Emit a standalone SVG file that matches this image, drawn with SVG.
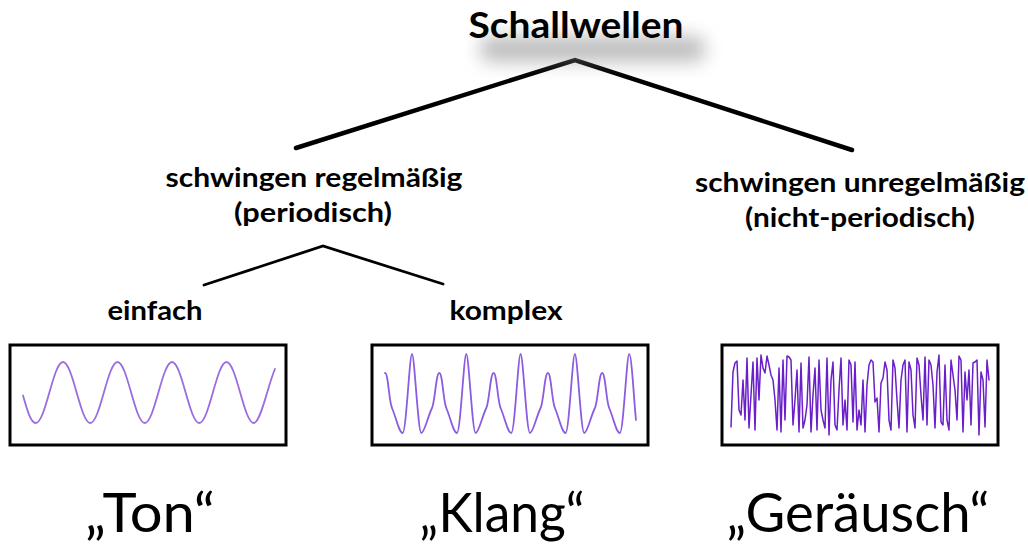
<svg xmlns="http://www.w3.org/2000/svg" width="1028" height="544" viewBox="0 0 1028 544">
<style>
.t{font-family:Lato,"Open Sans","Liberation Sans",sans-serif;font-weight:bold;fill:#000;text-anchor:middle}
.b{font-family:Lato,"Open Sans","Liberation Sans",sans-serif;font-weight:normal;fill:#000;text-anchor:middle;font-size:54px}
.ln{stroke:#000;fill:none;stroke-linecap:round;stroke-linejoin:miter}
.box{fill:#fff;stroke:#000;stroke-width:3}
.w{fill:none;stroke-linejoin:round;stroke-linecap:round}
</style>
<defs>
<filter id="sh" x="-40%" y="-150%" width="180%" height="400%"><feGaussianBlur stdDeviation="9"/></filter>
</defs>
<rect width="1028" height="544" fill="#fff"/>
<g id="connectors">
<polyline class="ln" stroke-width="4.5" points="296,148 575,60 852,150"/>
<polyline class="ln" stroke-width="2.8" points="204,285 323,246 443,284"/>
</g>
<g id="root">
<rect x="480" y="36" width="225" height="26" rx="10" fill="#8a8a8a" opacity="0.55" filter="url(#sh)"/>
<text class="t" x="576" y="38" font-size="36" textLength="215" lengthAdjust="spacingAndGlyphs">Schallwellen</text>
</g>
<g id="periodic">
<text class="t" x="314" y="187" font-size="27" textLength="297" lengthAdjust="spacingAndGlyphs">schwingen regelmäßig</text>
<text class="t" x="313" y="222" font-size="27" textLength="158" lengthAdjust="spacingAndGlyphs">(periodisch)</text>
</g>
<g id="aperiodic">
<text class="t" x="860" y="192" font-size="27" textLength="330" lengthAdjust="spacingAndGlyphs">schwingen unregelmäßig</text>
<text class="t" x="860" y="227" font-size="27" textLength="230" lengthAdjust="spacingAndGlyphs">(nicht-periodisch)</text>
</g>
<g id="simple">
<text class="t" x="155" y="320" font-size="27" textLength="95" lengthAdjust="spacingAndGlyphs">einfach</text>
<rect class="box" x="10" y="345" width="276" height="100"/>
<path class="w" stroke="#9a6ce0" stroke-width="1.8" d="M23,395.5 C27.25,410.4 30.75,423 35.75,423 c9.8,0 17.45,-61 27.25,-61 c9.8,0 17.45,61 27.25,61 c9.8,0 17.45,-61 27.25,-61 c9.8,0 17.45,61 27.25,61 c9.8,0 17.45,-61 27.25,-61 c9.8,0 17.45,61 27.25,61 c9.8,0 17.45,-61 27.25,-61 c9.8,0 17.45,61 27.25,61 C260.75,423 268,384.7 275,369"/>
<text class="b" x="150" y="532" textLength="130" lengthAdjust="spacingAndGlyphs">„Ton“</text>
</g>
<g id="complex">
<text class="t" x="506" y="320" font-size="27" textLength="113" lengthAdjust="spacingAndGlyphs">komplex</text>
<rect class="box" x="372" y="345" width="276" height="100"/>
<path class="w" stroke="#8c5ce0" stroke-width="1.8" d="M385,373 c3.3,0 4,29 7,35 c4,9 7,25 10.7,25 c3.5,0 6.8,-79 9.3,-79 c2.5,0 6,79 9.3,79 c3,0 6,-15 10.7,-25 c3,-6 4,-35 7.3,-35 c3.3,0 4,29 7,35 c4,9 7,25 10.7,25 c3.5,0 6.8,-79 9.3,-79 c2.5,0 6,79 9.3,79 c3,0 6,-15 10.7,-25 c3,-6 4,-35 7.3,-35 c3.3,0 4,29 7,35 c4,9 7,25 10.7,25 c3.5,0 6.8,-79 9.3,-79 c2.5,0 6,79 9.3,79 c3,0 6,-15 10.7,-25 c3,-6 4,-35 7.3,-35 c3.3,0 4,29 7,35 c4,9 7,25 10.7,25 c3.5,0 6.8,-79 9.3,-79 c2.5,0 6,79 9.3,79 c3,0 6,-15 10.7,-25 c3,-6 4,-35 7.3,-35 c3.3,0 4,29 7,35 c4,9 7,25 10.7,25 c3.5,0 6.8,-79 9.3,-79 c2.5,0 5,50 6.8,66"/>
<text class="b" x="502" y="532" textLength="165" lengthAdjust="spacingAndGlyphs">„Klang“</text>
</g>
<g id="noise">
<rect class="box" x="722" y="345" width="276" height="100"/>
<polyline class="w" stroke="#6a1fc8" stroke-width="1.5" points="731,427 733,372 735,363 737,361 739,410 741,415 743,380 745,420 747,358 749,428 751,395 753,362 755,430 757,358 759,400 761,355 763,368 765,373 767,356 769,365 771,375 773,380 775,400 777,430 779,368 781,432 783,360 785,420 787,356 789,357 791,360 793,425 795,400 797,370 799,432 801,363 803,428 805,420 807,405 809,357 811,432 813,395 815,368 817,430 819,360 821,410 823,420 825,428 827,358 829,435 831,380 833,362 835,425 837,430 839,390 841,358 843,425 845,400 847,430 849,360 851,365 853,422 855,362 857,430 859,410 861,425 863,380 865,432 867,385 869,365 871,360 873,362 875,402 877,398 879,432 881,383 883,378 885,362 887,370 889,420 891,430 893,360 895,368 897,400 899,428 901,380 903,365 905,360 907,432 909,362 911,370 913,415 915,428 917,358 919,365 921,395 923,420 925,357 927,425 929,360 931,365 933,385 935,428 937,372 939,355 941,422 943,425 945,365 947,420 949,430 951,360 953,375 955,390 957,420 959,356 961,360 963,432 965,372 967,400 969,370 971,425 973,363 975,362 977,360 979,435 981,372 983,380 985,427 987,360 989,380"/>
<text class="b" x="858" y="532" textLength="263" lengthAdjust="spacingAndGlyphs">„Geräusch“</text>
</g>
</svg>
